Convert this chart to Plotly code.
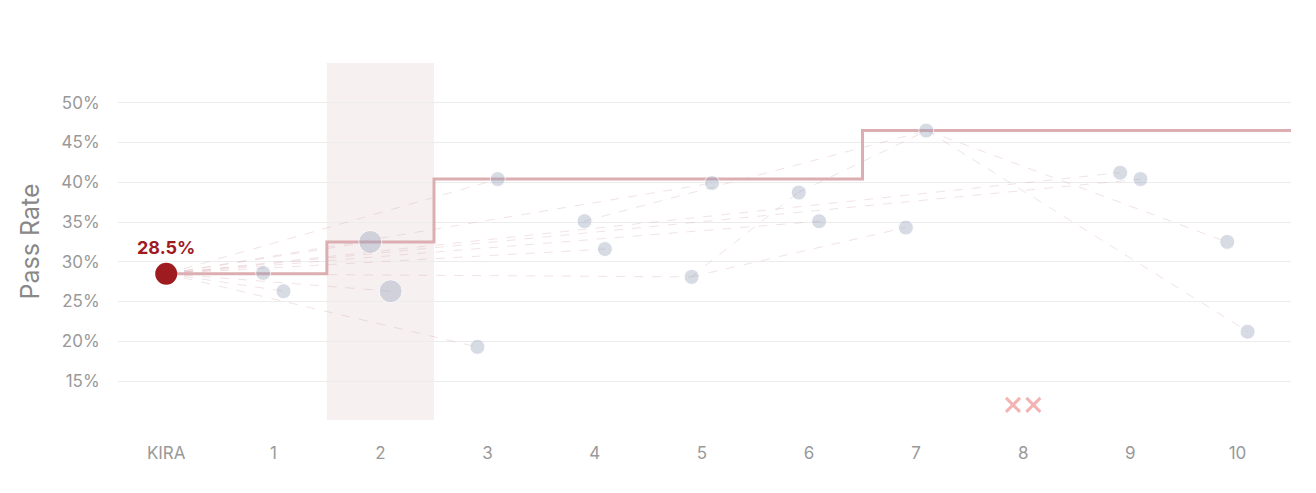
import plotly.graph_objects as go

categories = ["KIRA", "1", "2", "3", "4", "5", "6", "7", "8", "9", "10"]
kira_value = 28.5
# two runs per task position (a = left, b = right)
run_a = [None, 28.6, 32.5, 19.3, 35.1, 28.1, 38.7, 34.3, None, 41.2, 32.5]
run_b = [None, 26.3, 26.3, 40.4, 31.6, 39.9, 35.1, 46.5, None, 40.4, 21.2]
big_a = [False, False, True, False, False, False, False, False, False, False, False]
big_b = [False, False, True, False, False, False, False, False, False, False, False]
missing_positions = [8]
missing_y = 12.0
best_x = [0, 1.5, 1.5, 2.5, 2.5, 6.5, 6.5, 10.5]
best_y = [28.5, 28.5, 32.5, 32.5, 40.4, 40.4, 46.5, 46.5]
y_ticks = [15, 20, 25, 30, 35, 40, 45, 50]
# faint connecting links: (from_x, from_y, to_x, to_y)
links = [(0, 28.5, 0.9, 28.6), (0, 28.5, 1.1, 26.3), (0, 28.5, 1.9, 32.5), (0, 28.5, 2.1, 26.3),
         (0, 28.5, 2.9, 19.3), (0, 28.5, 3.1, 40.4), (0, 28.5, 4.1, 31.6), (0, 28.5, 4.9, 28.1),
         (0, 28.5, 6.1, 35.1), (0, 28.5, 8.9, 41.2), (0, 28.5, 9.1, 40.4), (0, 28.5, 5.1, 39.9),
         (4.9, 28.1, 6.9, 34.3), (4.9, 28.1, 5.9, 38.7), (5.9, 38.7, 7.1, 46.5),
         (7.1, 46.5, 9.9, 32.5), (7.1, 46.5, 10.1, 21.2), (3.9, 35.1, 7.1, 46.5)]

off = 0.095
fig = go.Figure()
fig.add_shape(type="rect", xref="x", yref="paper", x0=1.5, x1=2.5, y0=0, y1=1,
              fillcolor="rgba(150,60,60,0.08)", line_width=0, layer="below")
for (x0, y0, x1, y1) in links:
    fig.add_trace(go.Scatter(x=[x0, x1], y=[y0, y1], mode="lines", hoverinfo="skip",
                             line=dict(color="rgba(210,160,165,0.3)", width=1, dash="dash"),
                             showlegend=False))
fig.add_trace(go.Scatter(x=best_x, y=best_y, mode="lines", line=dict(color="#dcaeb1", width=3),
                         showlegend=False))
for vals, bigs, sgn in [(run_a, big_a, -1), (run_b, big_b, 1)]:
    xs, ys, ss = [], [], []
    for i, (v, b) in enumerate(zip(vals, bigs)):
        if v is None:
            continue
        xs.append(i + sgn * off); ys.append(v); ss.append(23 if b else 15)
    fig.add_trace(go.Scatter(x=xs, y=ys, mode="markers", showlegend=False,
                             marker=dict(size=ss, color="rgba(150,162,188,0.55)")))
fig.add_trace(go.Scatter(x=[p + d for p in missing_positions for d in (-off, off)],
                         y=[missing_y] * 2 * len(missing_positions), mode="markers", showlegend=False,
                         marker=dict(symbol="x-thin", size=14, line=dict(color="#f3b3b3", width=3))))
fig.add_trace(go.Scatter(x=[0], y=[kira_value], mode="markers+text", showlegend=False,
                         marker=dict(size=22, color="#9e1c1f"),
                         text=[f"<b>{kira_value}%</b>"], textposition="top center",
                         textfont=dict(color="#9e1c1f", size=18, family="Inter")))
fig.update_layout(
    width=1316, height=493, margin=dict(l=110, r=33, t=55, b=81),
    plot_bgcolor="white", paper_bgcolor="white",
    font=dict(family="Inter", color="#999"),
    xaxis=dict(tickmode="array", tickvals=list(range(len(categories))), ticktext=categories,
               range=[-0.45, 10.5], showgrid=False, zeroline=False,
               ticks="outside", ticklen=18, tickcolor="rgba(0,0,0,0)",
               tickfont=dict(size=17, color="#999")),
    yaxis=dict(range=[10.1, 55], tickmode="array", tickvals=y_ticks,
               ticktext=[f"{t}%" for t in y_ticks],
               ticks="outside", ticklen=14, tickcolor="rgba(0,0,0,0)",
               gridcolor="#ececec", zeroline=False, tickfont=dict(size=17, color="#999"),
               title=dict(text="Pass Rate", font=dict(size=25, color="#888"), standoff=14)),
)
fig.write_html("out.html")
